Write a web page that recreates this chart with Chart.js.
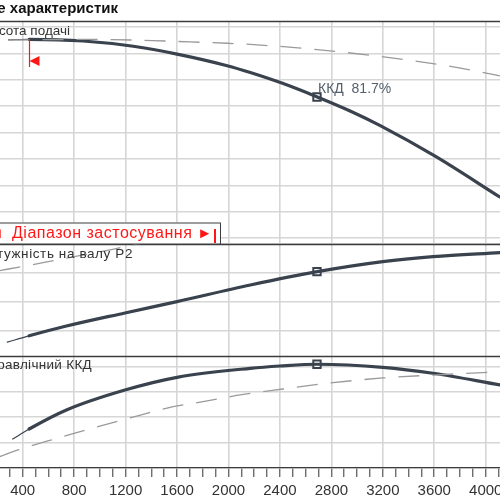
<!DOCTYPE html>
<html><head><meta charset="utf-8">
<script src="https://cdn.jsdelivr.net/npm/chart.js@4.4.1/dist/chart.umd.min.js"></script>
<style>html,body{margin:0;padding:0;background:#fff;overflow:hidden}#wrap{position:relative;width:500px;height:500px}</style>
</head><body><div id="wrap"><canvas id="c"></canvas></div>
<script>
// ---- texts ----
const titleText = 'Поле характеристик';
const labelH = 'Висота подачі';
const labelP = 'Потужність на валу P2';
const labelE = 'Гідравлічний ККД';
const rangeLabel = 'Діапазон застосування';
const dutyLabel = 'ККД  81.7%';

// ---- x axis (flow) ----
const qMin = 223.5, qMax = 4111;
const xMinorStep = 100, xLabelStep = 400;
const rangeStartQ = 450;   // start of application range (thin -> thick)
const rangeEndQ = 1895;    // red marker at end of the range label

// ---- head H ----
const qH     = [290, 450, 870, 1260, 1600, 1990, 2170, 2420, 2690, 2950, 3180, 3610, 4110];
const hSolid = [15.03, 15.06, 14.94, 14.54, 13.95, 13.07, 12.55, 11.73, 10.70, 9.62, 8.53, 6.20, 3.12];
const qHd     = [290, 960, 1410, 1700, 1990, 2170, 2540, 2840, 3120, 3410, 3700, 3970, 4110];
const hDashed = [15.02, 15.06, 14.97, 14.87, 14.77, 14.68, 14.42, 14.14, 13.84, 13.48, 13.06, 12.58, 12.30];

// ---- shaft power P2 ----
const qP     = [280, 450, 740, 1195, 1600, 2170, 2690, 3200, 3590, 4110];
const pSolid = [0.062, 0.0835, 0.117, 0.162, 0.201, 0.258, 0.3036, 0.338, 0.355, 0.369];
const qPd     = [220, 280, 430, 690, 1100, 1290, 1500];
const pDashed = [0.307, 0.312, 0.3238, 0.346, 0.3804, 0.3986, 0.417];

// ---- hydraulic efficiency ----
const qE     = [322, 450, 740, 1195, 1600, 2170, 2400, 2690, 3200, 3590, 4110];
const eSolid = [22.8, 30.7, 45.7, 61.4, 71.4, 78.5, 80.3, 81.7, 79.3, 74.6, 65.4];
const qEd     = [220, 364, 675, 978, 1234, 1522, 1802, 2090, 2424, 2789, 3201, 3590, 4110];
const eDashed = [8.9, 14.2, 23.6, 32.3, 39.4, 47.2, 52.2, 57.5, 62.2, 66.9, 70.9, 73.2, 75.8];

// ---- duty point ----
const dutyQ = 2688, dutyH = 10.70, dutyP = 0.3036, dutyE = 81.7;

const CURVE = '#39424d', DASH = '#9a9a9a', GRID = '#d6d6d6', FRAME = '#3c3c3c', RED = '#ff1717';
const FONT = "'Liberation Sans', Arial, sans-serif";

const pts = (xs, ys) => xs.map((x, i) => ({x, y: ys[i]}));
const solid = (axis, xs, ys) => ({
  data: pts(xs, ys), yAxisID: axis, borderColor: CURVE, borderWidth: 3.2, pointRadius: 0,
  cubicInterpolationMode: 'monotone', fill: false, borderCapStyle: 'round',
  segment: { borderWidth: c => (c.p1.parsed.x <= rangeStartQ + 1 ? 1.2 : 3.2) }
});
const dashed = (axis, xs, ys) => ({
  data: pts(xs, ys), yAxisID: axis, borderColor: DASH, borderWidth: 1.3, borderDash: [21, 13],
  pointRadius: 0, cubicInterpolationMode: 'monotone', fill: false
});
const duty = (axis, y) => ({
  data: [{x: dutyQ, y}], yAxisID: axis, showLine: false, pointStyle: 'rect', pointRadius: 5.2,
  pointBackgroundColor: '#fff', pointBorderColor: CURVE, pointBorderWidth: 2, pointHoverRadius: 5.2
});
const yScale = (min, max, step, w) => ({
  type: 'linear', position: 'left', stack: 'panels', stackWeight: w, min, max,
  grid: { color: GRID, lineWidth: 1.6, drawTicks: false },
  border: { display: false },
  ticks: { display: false, stepSize: step, includeBounds: false },
  afterFit: s => { s.width = 0; }
});

const clipPanels = {
  id: 'clipPanels',
  beforeDatasetDraw(chart, args) {
    const ys = chart.scales[args.meta.yAxisID], a = chart.chartArea, ctx = chart.ctx;
    ctx.save(); ctx.beginPath(); ctx.rect(a.left - 2, ys.top, a.width + 4, ys.bottom - ys.top); ctx.clip();
  },
  afterDatasetDraw(chart) { chart.ctx.restore(); }
};

function txt(ctx, s, x, y, font, color, align, spacing) {
  ctx.save(); ctx.font = font; ctx.fillStyle = color; ctx.textAlign = align || 'left';
  if (spacing) ctx.letterSpacing = spacing + 'px';
  ctx.textBaseline = 'alphabetic'; ctx.fillText(s, x, y); ctx.restore();
}

const deco = {
  id: 'deco',
  beforeDatasetsDraw(chart) {
    const ctx = chart.ctx, a = chart.chartArea;
    ctx.save(); ctx.strokeStyle = FRAME; ctx.lineWidth = 1.3;
    ['yH', 'yP', 'yE'].forEach(id => {
      const t = Math.round(chart.scales[id].top) + 0.5;
      ctx.beginPath(); ctx.moveTo(a.left, t); ctx.lineTo(a.right, t); ctx.stroke();
    });
    ctx.restore();
  },
  afterDraw(chart) {
    const ctx = chart.ctx, xs = chart.scales.x;
    txt(ctx, titleText, 118, 13, "bold 15px " + FONT, '#111', 'right');
    txt(ctx, labelH, 70, 34.5, "13.5px " + FONT, '#333', 'right');
    txt(ctx, labelP, 133, 257.5, "13.5px " + FONT, '#333', 'right', 0.6);
    txt(ctx, labelE, 92, 369, "13.5px " + FONT, '#333', 'right', 0.3);
    txt(ctx, dutyLabel, 318, 92.5, "14px " + FONT, '#55606b', 'left');
    // start-of-range marker
    const xs0 = Math.round(xs.getPixelForValue(rangeStartQ)) + 0.5;
    ctx.save(); ctx.strokeStyle = RED; ctx.fillStyle = RED; ctx.lineWidth = 1.2;
    ctx.beginPath(); ctx.moveTo(xs0, 39); ctx.lineTo(xs0, 67); ctx.stroke();
    ctx.beginPath(); ctx.moveTo(xs0, 61); ctx.lineTo(xs0 + 10, 56); ctx.lineTo(xs0 + 10, 66); ctx.closePath(); ctx.fill();
    ctx.restore();
    // range label box
    const xe = xs.getPixelForValue(rangeEndQ);
    const top = 222.5, bot = chart.scales.yP.top;
    ctx.save(); ctx.fillStyle = '#fff'; ctx.fillRect(-5, top, xe + 10, bot - top);
    ctx.strokeStyle = FRAME; ctx.lineWidth = 1; ctx.strokeRect(-5, top + 0.5, xe + 10.5, bot - top);
    ctx.restore();
    txt(ctx, '◄', 3.5, 238, "15px " + FONT, RED, 'right');
    txt(ctx, rangeLabel, 12, 238, "16px " + FONT, RED, 'left', 0.5);
    txt(ctx, '►', xe - 3, 238, "15px " + FONT, RED, 'right');
    ctx.save(); ctx.strokeStyle = RED; ctx.lineWidth = 2;
    ctx.beginPath(); ctx.moveTo(xe, 229); ctx.lineTo(xe, 243); ctx.stroke(); ctx.restore();
  }
};

new Chart(document.getElementById('c'), {
  type: 'line',
  data: { datasets: [
    dashed('yH', qHd, hDashed), solid('yH', qH, hSolid), duty('yH', dutyH),
    dashed('yP', qPd, pDashed), solid('yP', qP, pSolid), duty('yP', dutyP),
    dashed('yE', qEd, eDashed), solid('yE', qE, eSolid), duty('yE', dutyE)
  ]},
  options: {
    responsive: true, maintainAspectRatio: false, animation: false,
    layout: { autoPadding: false, padding: { top: 21, left: 0, right: 0, bottom: 0 } },
    plugins: { legend: { display: false }, tooltip: { enabled: false } },
    scales: {
      x: {
        type: 'linear', position: 'bottom', min: qMin, max: qMax,
        grid: { color: c => (c.tick && c.tick.value % xLabelStep === 0 ? GRID : 'rgba(0,0,0,0)'),
                lineWidth: 1.6, tickColor: '#333', tickLength: 9, tickWidth: 1 },
        border: { display: true, color: FRAME, width: 1.3 },
        ticks: { stepSize: xMinorStep, autoSkip: false, maxRotation: 0, includeBounds: false, padding: 5,
                 color: '#333', font: { family: FONT, size: 15 },
                 callback: v => (v % xLabelStep === 0 ? String(v) : '') },
        afterFit: s => { s.height = 32; s.paddingLeft = 0; s.paddingRight = 0; }
      },
      yE: yScale(0, 88.19, 20, 112),
      yP: yScale(0.0142, 0.4, 0.1, 112.4),
      yH: yScale(-0.409, 16.455, 2, 222.6)
    }
  },
  plugins: [clipPanels, deco]
});
</script></body></html>
